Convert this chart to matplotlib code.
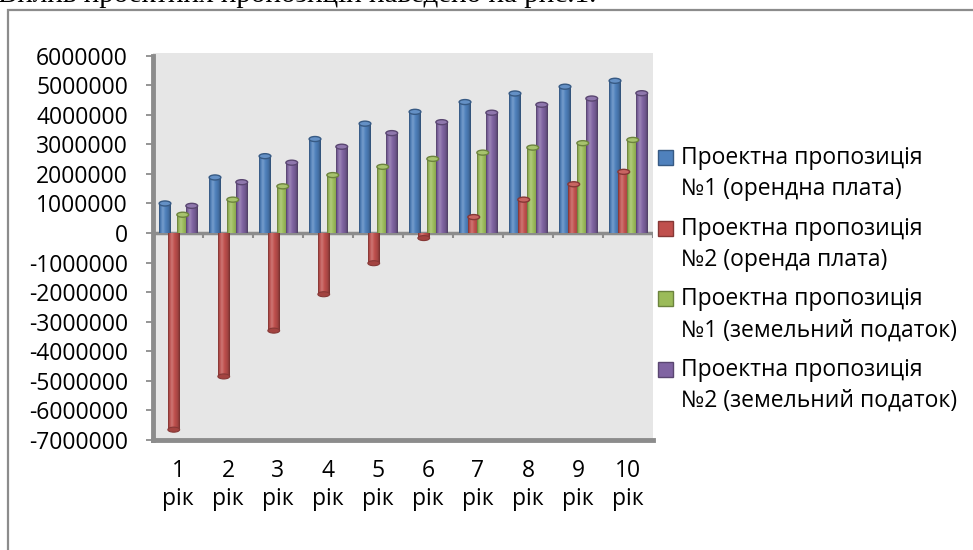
import matplotlib
matplotlib.use('Agg')
import matplotlib.pyplot as plt
import numpy as np
from matplotlib.patches import Rectangle, Ellipse
from matplotlib.colors import to_rgb

# ---------------- data ----------------
years = [1, 2, 3, 4, 5, 6, 7, 8, 9, 10]
year_labels = [f"{y}\nрік" for y in years]
series_names = [
    "Проектна пропозиція\n№1 (орендна плата)",
    "Проектна пропозиція\n№2 (оренда плата)",
    "Проектна пропозиція\n№1 (земельний податок)",
    "Проектна пропозиція\n№2 (земельний податок)",
]
p1_rent = [1.00e6, 1.88e6, 2.60e6, 3.18e6, 3.70e6, 4.10e6, 4.43e6, 4.72e6, 4.95e6, 5.15e6]
p2_rent = [-6.65e6, -4.85e6, -3.30e6, -2.07e6, -1.02e6, -0.17e6, 0.54e6, 1.13e6, 1.65e6, 2.07e6]
p1_tax = [0.62e6, 1.13e6, 1.58e6, 1.96e6, 2.24e6, 2.51e6, 2.72e6, 2.89e6, 3.04e6, 3.15e6]
p2_tax = [0.92e6, 1.72e6, 2.38e6, 2.92e6, 3.38e6, 3.75e6, 4.07e6, 4.34e6, 4.55e6, 4.73e6]
y_ticks = [-7000000, -6000000, -5000000, -4000000, -3000000, -2000000, -1000000,
           0, 1000000, 2000000, 3000000, 4000000, 5000000, 6000000]

series = [p1_rent, p2_rent, p1_tax, p2_tax]
colors = ["#4F81BD", "#C0504D", "#9BBB59", "#8064A2"]
offsets = [-0.26, -0.085, 0.095, 0.275]
bar_w = 0.235

FONT = "Open Sans"
FS = 16.5
W, H = 973, 550

fig = plt.figure(figsize=(W / 100, H / 100), dpi=100)


def fx(px):
    return px / W


def fy(py):
    return 1 - py / H


# document text (cut off at top, as in the source page) and chart frame
fig.text(fx(-2), fy(2), "Вплив проектних пропозицій наведено на рис.1.",
         family="Liberation Serif", fontsize=21, va="baseline", ha="left")
fig.patches.append(Rectangle((fx(8), fy(600)), fx(1100), fy(10) - fy(600),
                             transform=fig.transFigure, fill=False,
                             edgecolor="#8c8c8c", linewidth=1.6))

ax = fig.add_axes([fx(153), fy(440), fx(500), fy(53) - fy(440)])
ax.set_facecolor("#e6e6e6")

x = np.arange(1, len(years) + 1)


def mix(c, t, amt):
    c = np.array(to_rgb(c))
    t = np.array(to_rgb(t))
    return c * (1 - amt) + t * amt


ylo, yhi = -7000000, 6090000
cap_h = 0.17e6
n = 64
tt = np.linspace(0, 1, n)
ctrl_t = [0.0, 0.12, 0.32, 0.55, 0.82, 1.0]
for vals, col, off in zip(series, colors, offsets):
    bars = ax.bar(x + off, vals, width=bar_w, color=col, zorder=3, linewidth=0)
    base = np.array(to_rgb(col))
    ctrl_c = [base * 0.62, base * 0.95, mix(col, "white", 0.22), base, base * 0.85, base * 0.6]
    grad = np.zeros((1, n, 3))
    for k in range(3):
        grad[0, :, k] = np.interp(tt, ctrl_t, [c[k] for c in ctrl_c])
    grad = np.clip(grad, 0, 1)
    for b, v in zip(bars, vals):
        x0 = b.get_x()
        x1 = x0 + b.get_width()
        y0, y1 = sorted([0, v])
        im = ax.imshow(grad, extent=[x0, x1, y0, y1], aspect="auto", zorder=4,
                       interpolation="bilinear")
        im.set_clip_path(b)
        cx = x0 + b.get_width() / 2
        if v >= 0:
            ax.add_patch(Ellipse((cx, v), b.get_width(), cap_h,
                                 facecolor=mix(col, "white", 0.12),
                                 edgecolor=base * 0.7, linewidth=1.0, zorder=5))
        else:
            ax.add_patch(Ellipse((cx, v), b.get_width(), cap_h,
                                 facecolor=base * 0.85, edgecolor=base * 0.7,
                                 linewidth=0.8, zorder=5))

ax.set_xlim(0.5, len(years) + 0.5)
ax.set_ylim(ylo, yhi)

# zero line and category ticks
ax.axhline(0, color="#8c8c8c", linewidth=2.5, zorder=2)
ax.vlines(x + 0.5, -0.18e6, 0, color="#8c8c8c", linewidth=1.5, zorder=2)

for s in ["top", "right"]:
    ax.spines[s].set_visible(False)
ax.spines["left"].set_color("#8c8c8c")
ax.spines["left"].set_linewidth(3.5)
ax.spines["left"].set_bounds(-7000000, 6000000)
ax.spines["bottom"].set_color("#8c8c8c")
ax.spines["bottom"].set_linewidth(3.5)

ax.set_yticks(y_ticks)
ax.set_yticklabels([str(v) for v in y_ticks], family=FONT, fontsize=FS)
ax.tick_params(axis="y", direction="out", length=5, width=1.3, color="#8c8c8c", pad=13)
ax.set_xticks(x)
ax.set_xticklabels(year_labels, family=FONT, fontsize=FS, linespacing=1.2)
ax.tick_params(axis="x", length=0, pad=14)

# legend (handle aligned with first line)
for i, (name, col) in enumerate(zip(series_names, colors)):
    top = 150 + 70.7 * i
    fig.patches.append(Rectangle((fx(658), fy(top + 15)), fx(15), fy(top) - fy(top + 15),
                                 transform=fig.transFigure, facecolor=col,
                                 edgecolor=np.array(to_rgb(col)) * 0.7, linewidth=1))
    l1, l2 = name.split("\n")
    fig.text(fx(681), fy(top + 8), l1, family=FONT, fontsize=FS, va="center", ha="left")
    fig.text(fx(681), fy(top + 39), l2, family=FONT, fontsize=FS, va="center", ha="left")

fig.savefig("out.png", dpi=100)
